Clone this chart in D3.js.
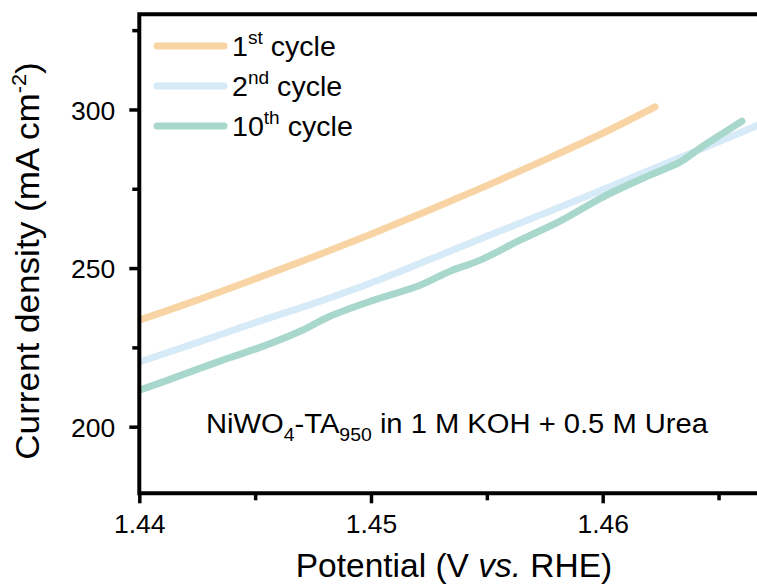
<!DOCTYPE html>
<html><head><meta charset="utf-8">
<script src="https://cdn.jsdelivr.net/npm/d3@7"></script>
<style>
html,body{margin:0;padding:0;background:#fff;}
svg{display:block;font-family:"Liberation Sans",Arial,sans-serif;}
</style></head>
<body>
<script>
// ---- data (potential in V vs. RHE, current density in mA cm-2) ----
const cycle1V  = [1.4400,1.4425,1.4450,1.4475,1.4500,1.4525,1.4550,1.4575,1.4600,1.46226];
const cycle1J  = [233.6,239.9,246.6,253.5,260.7,268.2,276.0,284.1,292.5,300.8];
const cycle2V  = [1.4400,1.4425,1.4450,1.4475,1.4500,1.4525,1.4550,1.4575,1.4600,1.4625,1.4650,1.4666,1.4675];
const cycle2J  = [220.4,226.5,232.8,238.8,245.3,252.6,260.0,267.3,274.7,282.3,289.8,294.8,298.2];
const cycle10V = [1.4400,1.44132,1.44262,1.44392,1.44521,1.44694,1.44823,1.4500,1.45212,1.45341,1.45471,1.45643,1.45816,1.46001,1.46204,1.46333,1.46420,1.46506,1.46601];
const cycle10J = [211.5,214.9,218.4,221.8,225.0,230.1,234.8,239.6,244.6,249.0,252.5,258.8,264.8,272.4,279.3,283.4,287.8,291.9,296.3];

const seriesNames = ["1", "2", "10"];
const seriesSup = ["st", "nd", "th"];
const seriesColors = ["#F8D4A4", "#D6EAF8", "#A8D7CB"];

const xMajorTicks = [1.44, 1.45, 1.46];
const xMinorTicks = [1.445, 1.455, 1.465];
const yMajorTicks = [200, 250, 300];
const yMinorTicks = [225, 275, 325];

const W = 757, H = 584;
const svg = d3.select("body").append("svg").attr("width", W).attr("height", H);

const x = d3.scaleLinear().domain([1.44, 1.46666]).range([139.3, 757]);
const y = d3.scaleLinear().domain([179, 330]).range([493.3, 14.3]);

const plotL = x.range()[0], plotR = x.range()[1], plotT = y.range()[1], plotB = y.range()[0];

svg.append("defs").append("clipPath").attr("id", "clip")
  .append("rect").attr("x", plotL).attr("y", plotT).attr("width", plotR - plotL + 10).attr("height", plotB - plotT);

const series = [
  {V: cycle1V, J: cycle1J},
  {V: cycle2V, J: cycle2J},
  {V: cycle10V, J: cycle10J}
];
const line = d3.line().x(d => x(d[0])).y(d => y(d[1])).curve(d3.curveCatmullRom.alpha(0.5));
const g = svg.append("g").attr("clip-path", "url(#clip)");
[1, 2, 0].forEach(i => {
  const s = series[i];
  g.append("path")
    .datum(s.V.map((v, k) => [v, s.J[k]]))
    .attr("d", line)
    .attr("fill", "none")
    .attr("stroke", seriesColors[i])
    .attr("stroke-width", 7)
    .attr("stroke-linecap", "round")
    .attr("stroke-linejoin", "round");
});

// axes
const xAxis = svg.append("g").attr("transform", `translate(0,${plotB})`)
  .call(d3.axisBottom(x).tickValues(xMajorTicks).tickFormat(d3.format(".2f")).tickSizeInner(10).tickSizeOuter(0));
const xMinor = svg.append("g").attr("transform", `translate(0,${plotB})`)
  .call(d3.axisBottom(x).tickValues(xMinorTicks).tickFormat("").tickSizeInner(7).tickSizeOuter(0));
const yAxis = svg.append("g").attr("transform", `translate(${plotL},0)`)
  .call(d3.axisLeft(y).tickValues(yMajorTicks).tickSizeInner(10).tickSizeOuter(0));
const yMinor = svg.append("g").attr("transform", `translate(${plotL},0)`)
  .call(d3.axisLeft(y).tickValues(yMinorTicks).tickFormat("").tickSizeInner(7).tickSizeOuter(0));

[xAxis, xMinor, yAxis, yMinor].forEach(a => {
  a.select(".domain").remove();
  a.selectAll(".tick line").attr("stroke", "#000").attr("stroke-width", 3.5);
  a.selectAll(".tick text").attr("fill", "#000").style("font-size", "26.5px")
    .style("font-family", "'Liberation Sans',Arial,sans-serif");
});
xAxis.selectAll(".tick text").attr("dy", "0").attr("y", 40);
yAxis.selectAll(".tick text").attr("x", -24).attr("dy", "0.36em");

// frame: left, bottom, top
svg.append("path")
  .attr("d", `M${plotR + 5},${plotT} L${plotL},${plotT} L${plotL},${plotB} L${plotR + 5},${plotB}`)
  .attr("fill", "none").attr("stroke", "#000").attr("stroke-width", 4);

// axis titles
const xt = svg.append("text").attr("x", 454).attr("y", 577).attr("text-anchor", "middle")
  .style("font-size", "33.5px").attr("fill", "#000");
xt.append("tspan").text("Potential (V ");
xt.append("tspan").style("font-style", "italic").text("vs.");
xt.append("tspan").text(" RHE)");

const yt = svg.append("text").attr("transform", "translate(39,261) rotate(-90) scale(1.08,1)").attr("text-anchor", "middle")
  .style("font-size", "32.5px").attr("fill", "#000");
yt.append("tspan").text("Current density (mA cm");
yt.append("tspan").attr("dy", -13).style("font-size", "20px").text("-2");
yt.append("tspan").attr("dy", 13).text(")");

// legend
const legY = [46, 86, 126];
seriesNames.forEach((n, i) => {
  svg.append("line").attr("x1", 157).attr("x2", 224).attr("y1", legY[i]).attr("y2", legY[i])
    .attr("stroke", seriesColors[i]).attr("stroke-width", 7).attr("stroke-linecap", "round");
  const t = svg.append("text").attr("transform", `translate(232,${legY[i] + 10}) scale(1.06,1)`)
    .style("font-size", "27px").attr("fill", "#000");
  t.append("tspan").text(n);
  t.append("tspan").attr("dy", -12).style("font-size", "18px").text(seriesSup[i]);
  t.append("tspan").attr("dy", 12).text(" cycle");
});

// annotation
const an = svg.append("text").attr("transform", "translate(457,433) scale(1.08,1)").attr("text-anchor", "middle")
  .style("font-size", "27px").attr("fill", "#000");
an.append("tspan").text("NiWO");
an.append("tspan").attr("dy", 8).style("font-size", "18px").text("4");
an.append("tspan").attr("dy", -8).text("-TA");
an.append("tspan").attr("dy", 8).style("font-size", "18px").text("950");
an.append("tspan").attr("dy", -8).text(" in 1 M KOH + 0.5 M Urea");
</script>
</body></html>
